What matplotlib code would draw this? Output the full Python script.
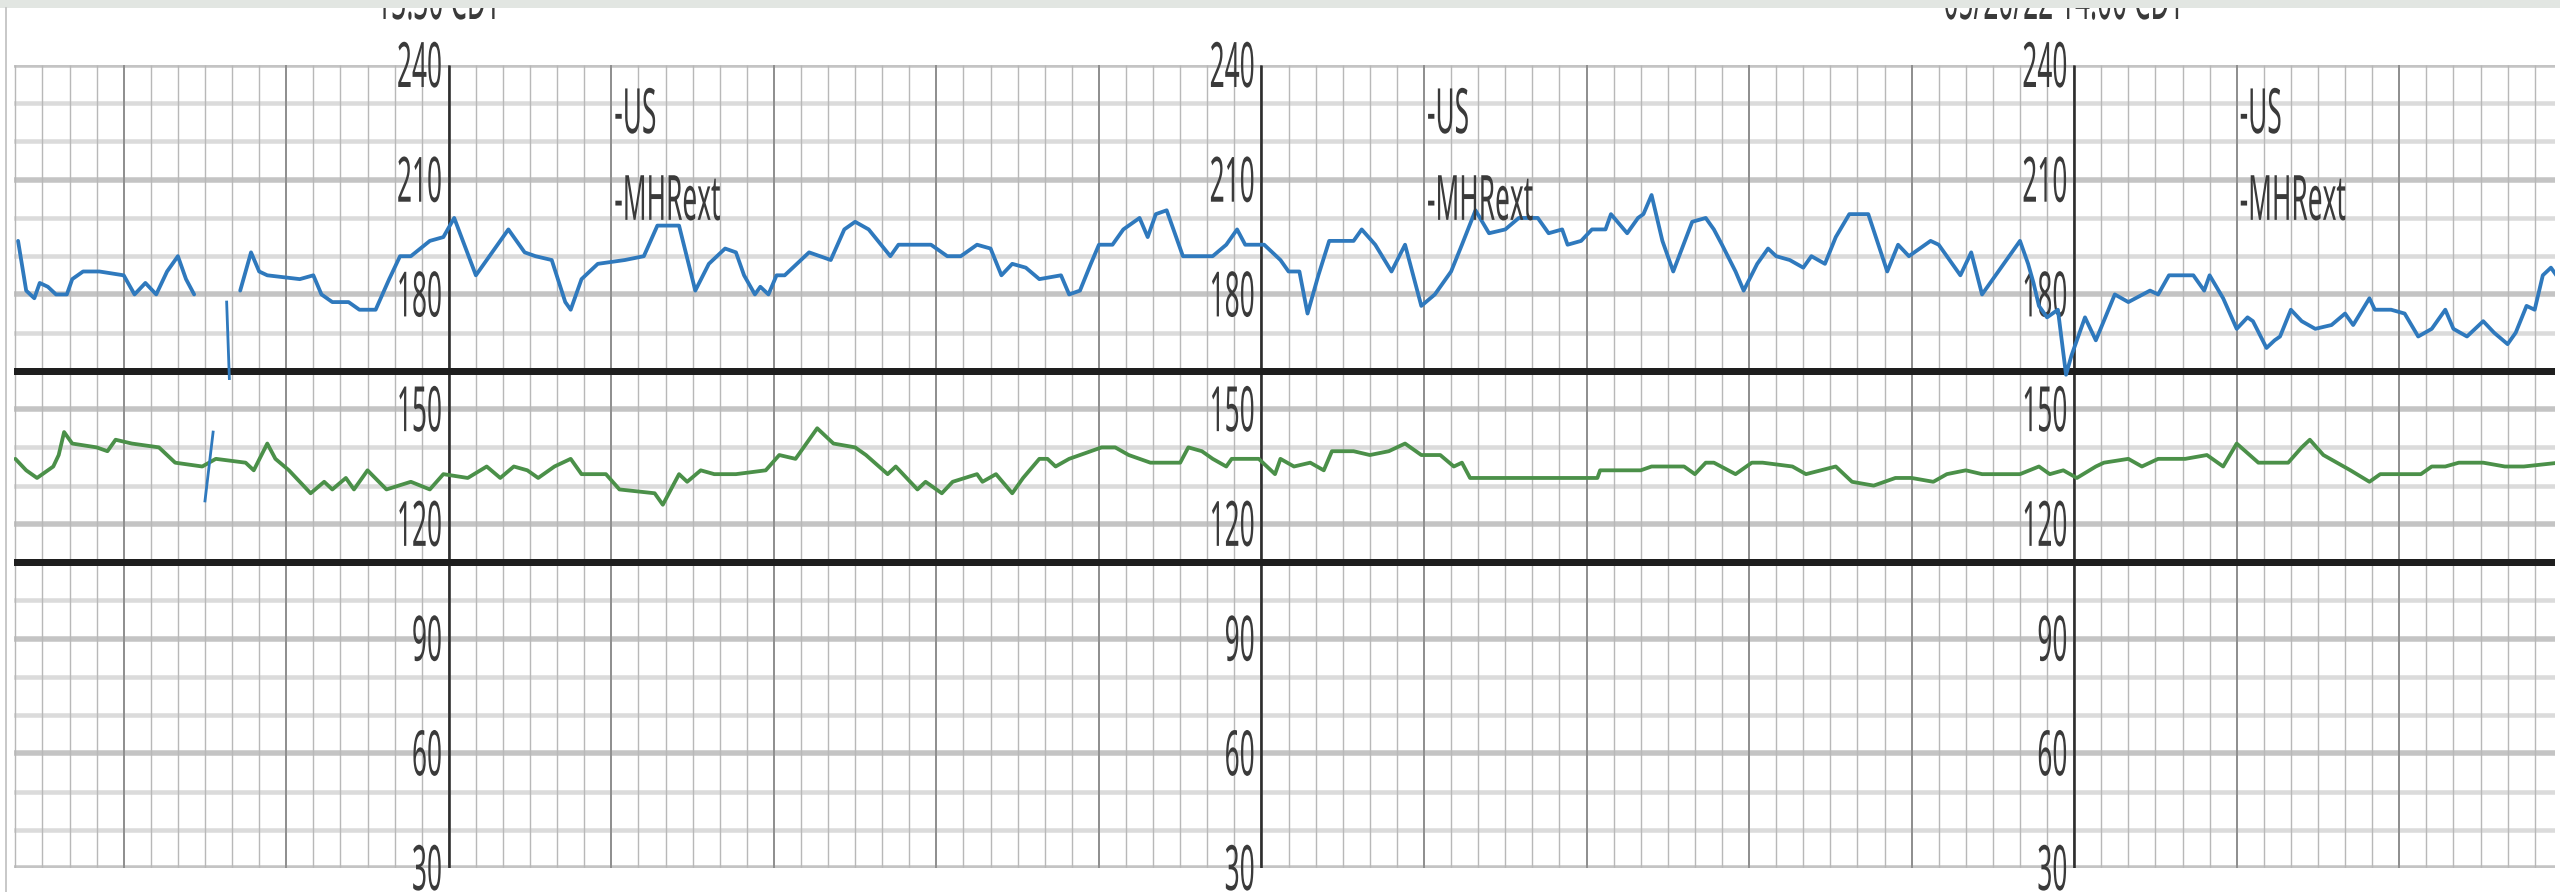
import numpy as np
import matplotlib
matplotlib.use("Agg")
import matplotlib.pyplot as plt
from matplotlib.patheffects import AbstractPathEffect
from matplotlib.transforms import Affine2D, offset_copy
from matplotlib.patches import Rectangle
from matplotlib.lines import Line2D

# ---------------------------------------------------------------------------
# Data: time in seconds relative to the 13:30 panel edge, heart rate in bpm
# ---------------------------------------------------------------------------
us_trace = [  # fetal heart rate (ultrasound)
    (-159, 194), (-156, 181), (-153, 179), (-151, 183), (-148, 182), (-145, 180),
    (-141, 180), (-139, 184), (-135, 186), (-129, 186), (-120, 185), (-116, 180),
    (-112, 183), (-108, 180), (-104, 186), (-100, 190), (-97, 184), (-94, 180),
    (-93, np.nan),
    (-77, 181), (-73, 191), (-70, 186), (-67, 185), (-55, 184), (-50, 185),
    (-47, 180), (-43, 178), (-37, 178), (-33, 176), (-27, 176), (-22, 184),
    (-18, 190), (-14, 190), (-7, 194), (-2, 195), (2, 200), (10, 185), (16, 191),
    (22, 197), (28, 191), (32, 190), (38, 189), (43, 178), (45, 176), (49, 184),
    (55, 188), (65, 189), (72, 190), (77, 198), (85, 198), (91, 181), (96, 188),
    (102, 192), (106, 191), (109, 185), (113, 180), (115, 182), (118, 180),
    (121, 185), (124, 185), (127, 187), (133, 191), (141, 189), (146, 197),
    (150, 199), (155, 197), (163, 190), (166, 193), (178, 193), (184, 190),
    (189, 190), (195, 193), (200, 192), (204, 185), (208, 188), (213, 187),
    (218, 184), (226, 185), (229, 180), (233, 181), (237, 188), (240, 193),
    (245, 193), (249, 197), (255, 200), (258, 195), (261, 201), (265, 202),
    (271, 190), (276, 190), (282, 190), (287, 193), (291, 197), (294, 193),
    (301, 193), (307, 189), (310, 186), (314, 186), (317, 175), (321, 185),
    (325, 194), (334, 194), (337, 197), (342, 193), (348, 186), (353, 193),
    (359, 177), (364, 180), (370, 186), (374, 193), (379, 202), (384, 196),
    (390, 197), (395, 200), (402, 200), (406, 196), (411, 197), (413, 193),
    (418, 194), (422, 197), (427, 197), (429, 201), (435, 196), (439, 200),
    (441, 201), (444, 206), (448, 194), (452, 186), (459, 199), (464, 200),
    (467, 197), (470, 193), (475, 186), (478, 181), (483, 188), (487, 192),
    (490, 190), (495, 189), (500, 187), (503, 190), (508, 188), (512, 195),
    (517, 201), (524, 201), (531, 186), (535, 193), (539, 190), (547, 194),
    (550, 193), (558, 185), (562, 191), (566, 180), (570, 184), (576, 190),
    (580, 194), (583, 188), (585, 183), (587, 177), (590, 174), (594, 176),
    (597, 159), (599, 164), (604, 174), (608, 168), (615, 180), (620, 178),
    (628, 181), (631, 180), (635, 185), (644, 185), (648, 181), (650, 185),
    (655, 179), (660, 171), (664, 174), (666, 173), (671, 166), (674, 168),
    (676, 169), (680, 176), (684, 173), (689, 171), (695, 172), (700, 175),
    (703, 172), (709, 179), (711, 176), (717, 176), (722, 175), (727, 169),
    (732, 171), (737, 176), (740, 171), (745, 169), (751, 173), (755, 170),
    (760, 167), (763, 170), (767, 177), (770, 176), (773, 185), (776, 187),
    (779, 184),
]

us_dropout_a = [(-82, 178), (-81, 158)]   # short spurious US strokes
us_dropout_b = [(-90, 126), (-87, 144)]

mhr_trace = [  # maternal heart rate (external)
    (-160, 137), (-156, 134), (-152, 132), (-146, 135), (-144, 138), (-142, 144),
    (-139, 141), (-130, 140), (-126, 139), (-123, 142), (-117, 141), (-107, 140),
    (-101, 136), (-91, 135), (-86, 137), (-75, 136), (-72, 134), (-67, 141),
    (-64, 137), (-59, 134), (-51, 128), (-46, 131), (-43, 129), (-38, 132),
    (-35, 129), (-30, 134), (-23, 129), (-14, 131), (-7, 129), (-2, 133),
    (7, 132), (14, 135), (19, 132), (24, 135), (29, 134), (33, 132), (39, 135),
    (45, 137), (49, 133), (58, 133), (63, 129), (76, 128), (79, 125), (85, 133),
    (88, 131), (93, 134), (98, 133), (106, 133), (117, 134), (122, 138),
    (128, 137), (136, 145), (142, 141), (150, 140), (154, 138), (162, 133),
    (165, 135), (173, 129), (176, 131), (182, 128), (186, 131), (195, 133),
    (197, 131), (202, 133), (208, 128), (212, 132), (218, 137), (221, 137),
    (224, 135), (229, 137), (241, 140), (246, 140), (251, 138), (259, 136),
    (270, 136), (273, 140), (278, 139), (282, 137), (287, 135), (289, 137),
    (299, 137), (305, 133), (307, 137), (312, 135), (318, 136), (323, 134),
    (326, 139), (334, 139), (340, 138), (347, 139), (353, 141), (359, 138),
    (366, 138), (371, 135), (374, 136), (377, 132), (424, 132), (425, 134),
    (440, 134), (444, 135), (456, 135), (460, 133), (464, 136), (467, 136),
    (475, 133), (481, 136), (485, 136), (496, 135), (501, 133), (512, 135),
    (518, 131), (526, 130), (534, 132), (540, 132), (548, 131), (553, 133),
    (560, 134), (566, 133), (580, 133), (587, 135), (591, 133), (596, 134),
    (601, 132), (608, 135), (611, 136), (620, 137), (625, 135), (631, 137),
    (641, 137), (649, 138), (655, 135), (660, 141), (668, 136), (679, 136),
    (684, 140), (687, 142), (692, 138), (702, 134), (709, 131), (713, 133),
    (719, 133), (728, 133), (732, 135), (737, 135), (742, 136), (751, 136),
    (759, 135), (766, 135), (779, 136),
]

panel_starts = [0, 300, 600]                 # seconds, one scale per panel
scale_ticks = [240, 210, 180, 150, 120, 90, 60, 30]
panel_stamps = {0: "13:30 CDT", 600: "05/20/22 14:00 CDT"}
limit_lines = [160, 110]
legend_labels = ["-US", "-MHRext"]

# ---------------------------------------------------------------------------
W, H, DPI = 2560, 892, 100
BLUE = "#2f79bd"
GREEN = "#4b9049"
TXT = "#3a3a3a"
FONT = "Noto Sans"
FS = 45


class NarrowGlyphs(AbstractPathEffect):
    """Draw text glyphs horizontally condensed around a pivot."""

    def __init__(self, sx=0.42, pivot="left"):
        super().__init__()
        self.sx = sx
        self.pivot = pivot

    def draw_path(self, renderer, gc, tpath, affine, rgbFace=None):
        xs = tpath.vertices[:, 0]
        if len(xs) == 0:
            return
        if self.pivot == "right":
            x0 = xs.max()
        elif self.pivot == "center":
            x0 = 0.5 * (xs.min() + xs.max())
        else:
            x0 = xs.min()
        squeeze = Affine2D().translate(-x0, 0).scale(self.sx, 1).translate(x0, 0)
        renderer.draw_path(gc, tpath, squeeze + affine, rgbFace)


fig = plt.figure(figsize=(W / DPI, H / DPI), dpi=DPI)
fig.patch.set_facecolor("white")

x_left_px, x_right_px = 14, 2555
y_top_px, y_bot_px = 65, 868
ax = fig.add_axes([x_left_px / W, (H - y_bot_px) / H,
                   (x_right_px - x_left_px) / W, (y_bot_px - y_top_px) / H])
ax.set_axis_off()
ax.set_xlim(-160.5, 777.5)
ax.set_ylim(30, 240)

px = 72.0 / DPI  # points per pixel

# horizontal grid: every 10 bpm, stronger every 30 bpm
for v in range(30, 241, 10):
    major = (v % 30 == 0)
    ax.axhline(v, color="#c4c4c4" if major else "#dbdbdb",
               lw=(5.5 if major else 4.5) * px, zorder=1)

# vertical grid: every 10 s, darker each minute
for t in range(-160, 778, 10):
    minute = (t % 60 == 0)
    ax.plot([t, t], [30, 240], color="#909090" if minute else "#b8b8b8",
            lw=(2.0 if minute else 1.4) * px, zorder=2, solid_capstyle="butt")

# panel scale lines
for t0 in panel_starts:
    ax.plot([t0, t0], [30, 240], color="#2e2e2e", lw=2.6 * px, zorder=3,
            solid_capstyle="butt")

# normal-range limit lines
for v in limit_lines:
    ax.axhline(v, color="#1e1e1e", lw=7 * px, zorder=3)

# scale labels
lab_tr = offset_copy(ax.transData, fig=fig, x=-5, y=-22, units="dots")
for t0 in panel_starts:
    for v in scale_ticks:
        ax.text(t0, v, str(v), transform=lab_tr, ha="right", va="baseline",
                fontsize=FS, family=FONT, color=TXT, zorder=4, clip_on=False,
                path_effects=[NarrowGlyphs(0.42, "right")])
    lt = offset_copy(ax.transData, fig=fig, x=3, y=0, units="dots")
    ax.text(t0 + 60, 222.2, legend_labels[0], transform=lt, ha="left",
            va="baseline", fontsize=FS, family=FONT, color=TXT, zorder=6,
            path_effects=[NarrowGlyphs(0.42, "left")])
    ax.text(t0 + 60, 199.5, legend_labels[1], transform=lt, ha="left",
            va="baseline", fontsize=FS, family=FONT, color=TXT, zorder=6,
            path_effects=[NarrowGlyphs(0.42, "left")])

# traces
us_t, us_v = zip(*us_trace)
mhr_t, mhr_v = zip(*mhr_trace)
ax.plot(mhr_t, mhr_v, color=GREEN, lw=3.8 * px, zorder=5,
        solid_joinstyle="round", solid_capstyle="round")
ax.plot(us_t, us_v, color=BLUE, lw=3.8 * px, zorder=5,
        solid_joinstyle="round", solid_capstyle="round")
for seg in (us_dropout_a, us_dropout_b):
    st, sv = zip(*seg)
    ax.plot(st, sv, color=BLUE, lw=2.8 * px, zorder=5)

# panel time stamps along the top edge
for t0, stamp in panel_stamps.items():
    txt = fig.text(0, 0, stamp, fontsize=FS, family=FONT, color=TXT,
                   ha="center", va="baseline", zorder=5,
                   path_effects=[NarrowGlyphs(0.42, "center")])
    xfig = fig.transFigure.inverted().transform(
        ax.transData.transform((t0, 240)))[0] - 10 / W
    txt.set_position((xfig, 1 - 19 / H))

# window chrome: top band and left border
fig.add_artist(Rectangle((0, 1 - 8 / H), 1, 8 / H, transform=fig.transFigure,
                         facecolor="#e2e6e2", edgecolor="none", zorder=20))
fig.add_artist(Line2D([6 / W, 6 / W], [0, 1 - 8 / H], transform=fig.transFigure,
                      color="#c9c9c9", lw=2 * px, zorder=20))

fig.savefig("out.png", dpi=DPI, facecolor="white")
